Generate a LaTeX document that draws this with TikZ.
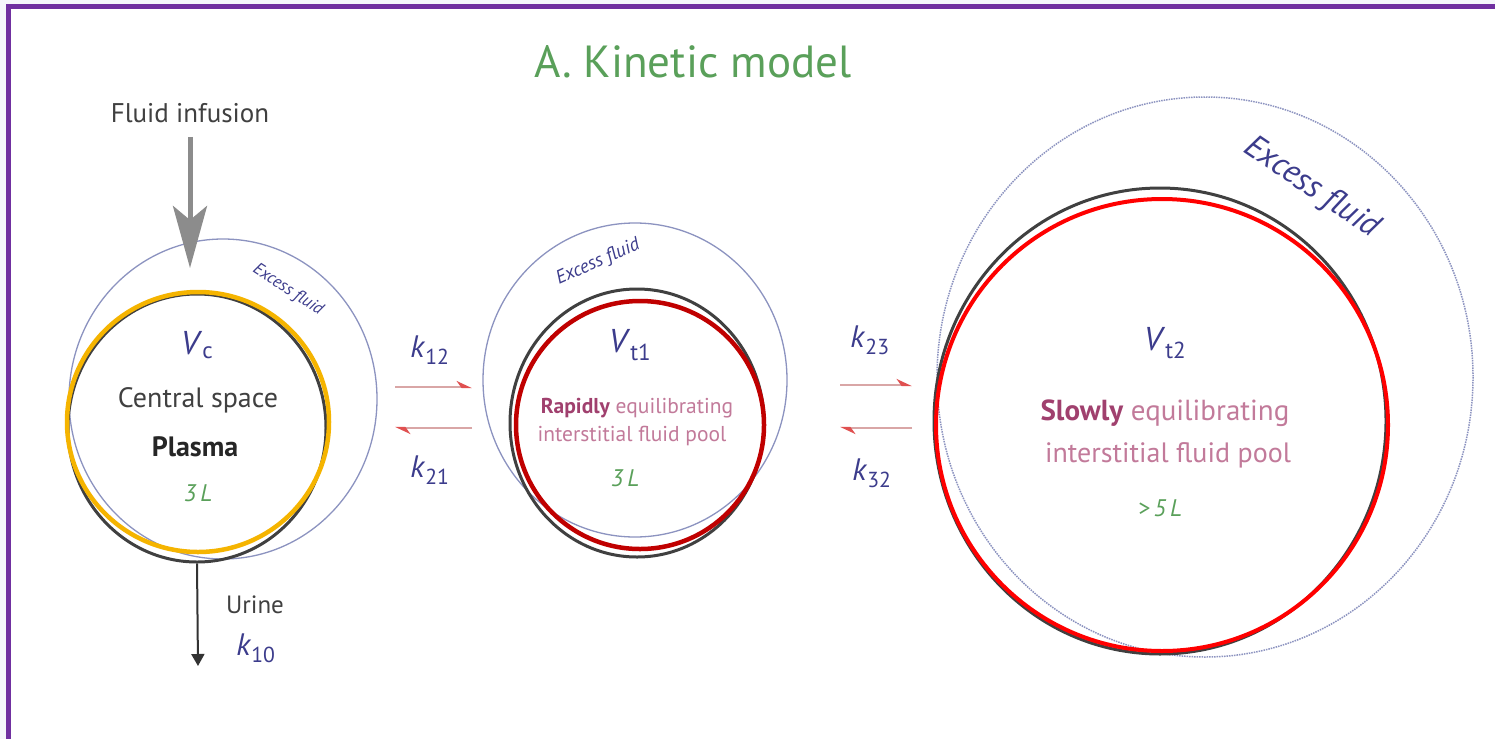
\documentclass[tikz,border=0pt]{standalone}
\usepackage{fontspec}
\setmainfont{PT Sans}
\usetikzlibrary{arrows.meta}
\definecolor{frame}{HTML}{7030A0}
\definecolor{bgedge}{HTML}{F5F6FB}
\definecolor{kblue}{HTML}{3C3C8C}
\definecolor{ringblue}{HTML}{8C93C0}
\definecolor{tgreen}{HTML}{5AA05A}
\definecolor{pinkbold}{HTML}{A0406E}
\definecolor{pinklight}{HTML}{C27A9A}
\definecolor{orangering}{HTML}{F5B400}
\definecolor{darkred}{HTML}{C00000}
\definecolor{harpline}{HTML}{D9A6A6}
\definecolor{harphead}{HTML}{E05050}
\tikzset{
  lbl/.style={inner sep=0pt, font=#1},
  lbl/.default={\fontsize{24}{28}\selectfont},
  ring/.style={draw=ringblue, line width=1.3pt},
  pool/.style={ellipse, inner sep=0pt, draw=black!75, line width=3pt},
  harp/.style={draw=harpline, line width=2.5pt, -{Stealth[harpoon, length=13pt, width=12pt, color=harphead]}},
  excess/.style={text=kblue, inner sep=0pt},
  kl/.style={text=kblue, inner sep=0pt, font=\fontsize{31}{35}\selectfont},
}
\usetikzlibrary{shapes.geometric}
\newcommand{\kk}[1]{\textit{k}\textsubscript{#1}}
\newcommand{\VV}[1]{\textit{V}\textsubscript{#1}}
\begin{document}
\begin{tikzpicture}[x=1pt,y=-1pt]
\useasboundingbox (0,0) rectangle (1495,739);
\fill[bgedge] (0,0) rectangle (1495,739);
\fill[white] (11,9) rectangle (1495,739);
\fill[frame] (6,4) rectangle (1495,9);
\fill[frame] (6,4) rectangle (11,739);

% title
\node[lbl={\fontsize{45}{50}\selectfont}, text=tgreen] (title) at (693,62) {A. Kinetic model};

% ---------- left compartment ----------
\draw[ring] (223,399) ellipse [x radius=154, y radius=160];
\node[pool, minimum width=258pt, minimum height=268pt] (vc) at (197,428) {};
\draw[orangering, line width=4.5pt] (198,422) ellipse [x radius=131, y radius=130];
\node[excess, rotate=-33, font=\fontsize{17}{19}\selectfont\itshape] (ex1) at (288,290) {Excess fluid};
\node[lbl={\fontsize{27}{31}\selectfont}, text=black!75] (fi) at (190,113) {Fluid infusion};
\draw[black!45, line width=5pt, -{Stealth[length=62pt, width=34pt, inset=14pt]}] (fi.south) ++(0,14) -- (190,268);
\node[kl, font=\fontsize{33}{37}\selectfont] (vcl) at (197,345) {\VV{c}};
\node[lbl={\fontsize{28}{32}\selectfont}, text=black!75] (cs) at (198,400) {Central space};
\node[lbl={\fontsize{28}{32}\selectfont\bfseries}, text=black!85] (pl) at (195,447) {Plasma};
\node[lbl={\fontsize{24}{28}\selectfont\itshape}, text=tgreen] (l1) at (198,493) {3\,L};
\coordinate (urineend) at (198,666);
\draw[black!80, line width=2pt, -{Triangle[length=12pt, width=13pt]}] (vc.south) -- (urineend);
\node[lbl={\fontsize{25}{29}\selectfont}, text=black!75] (ur) at (255,605) {Urine};
\node[kl] (k10) at (256,648) {\kk{10}};

% ---------- arrows 1-2 ----------
\node[kl] (k12) at (430,350) {\kk{12}};
\node[kl] (k21) at (430,470) {\kk{21}};
\coordinate (a1s) at (395,387); \coordinate (a1e) at (472,387);
\coordinate (b1s) at (472,428); \coordinate (b1e) at (395,428);
\draw[harp] (a1s) -- (a1e);
\draw[harp] (b1s) -- (b1e);

% ---------- middle compartment ----------
\draw[ring] (635,380) ellipse [x radius=152, y radius=157];
\node[pool, minimum width=254pt, minimum height=268pt] (vt1) at (637,423) {};
\draw[darkred, line width=4.5pt] (640,425) circle [radius=124];
\node[excess, rotate=24, font=\fontsize{19}{21}\selectfont\itshape] (ex2) at (598,262) {Excess fluid};
\node[kl, font=\fontsize{33}{37}\selectfont] (vt1l) at (630,345) {\VV{t1}};
\node[lbl={\fontsize{21.5}{25}\selectfont}, text=pinklight] (r1) at (637,408) {\textcolor{pinkbold}{\bfseries Rapidly} equilibrating};
\node[lbl={\fontsize{21.5}{25}\selectfont}, text=pinklight] (r2) at (632,436) {interstitial fluid pool};
\node[lbl={\fontsize{24}{28}\selectfont\itshape}, text=tgreen] (l2) at (625,478) {3\,L};

% ---------- arrows 2-3 ----------
\node[kl] (k23) at (870,340) {\kk{23}};
\node[kl] (k32) at (872,473) {\kk{32}};
\coordinate (a2s) at (840,385); \coordinate (a2e) at (912,385);
\coordinate (b2s) at (912,428); \coordinate (b2e) at (840,428);
\draw[harp] (a2s) -- (a2e);
\draw[harp] (b2s) -- (b2e);

% ---------- right compartment ----------
\draw[ringblue, line width=1.5pt, densely dotted] (1205,377) ellipse [x radius=268, y radius=280];
\node[pool, minimum width=452pt, minimum height=466pt] (vt2) at (1160,421) {};
\draw[red, line width=4pt] (1162,425) circle [radius=226];
\node[excess, rotate=-34, font=\fontsize{33}{37}\selectfont\itshape] (ex3) at (1312,188) {Excess fluid};
\node[kl, font=\fontsize{33}{37}\selectfont] (vt2l) at (1165,343) {\VV{t2}};
\node[lbl={\fontsize{29}{33}\selectfont}, text=pinklight] (s1) at (1165,413) {\textcolor{pinkbold}{\bfseries Slowly} equilibrating};
\node[lbl={\fontsize{28}{32}\selectfont}, text=pinklight] (s2) at (1168,455) {interstitial fluid pool};
\node[lbl={\fontsize{24}{28}\selectfont\itshape}, text=tgreen] (l3) at (1160,508) {>\,5\,L};
\end{tikzpicture}
\end{document}
